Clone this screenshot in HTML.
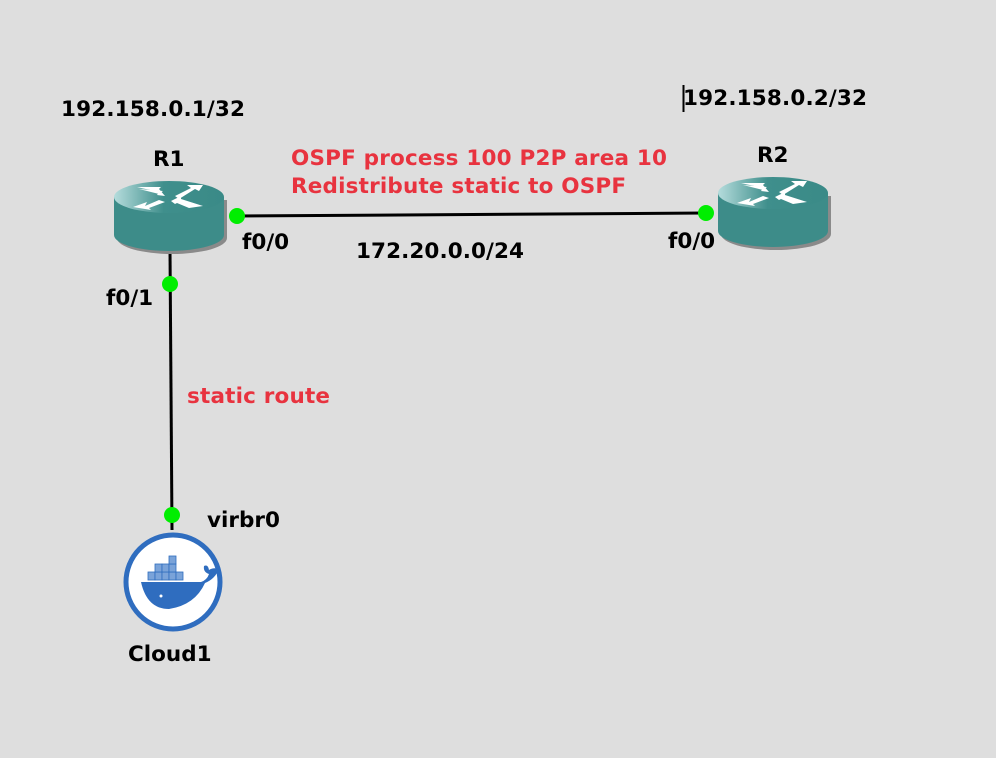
<!DOCTYPE html>
<html><head><style>
html,body{margin:0;padding:0;background:#dedede;}
svg{display:block}
text{font-family:"DejaVu Sans","Liberation Sans",sans-serif;font-weight:bold;font-size:21.5px;fill:#000}
.r{fill:#e8333f}
</style></head><body>
<svg width="996" height="758" viewBox="0 0 996 758" xmlns="http://www.w3.org/2000/svg">
<defs>
<linearGradient id="tg" x1="0" y1="0" x2="1" y2="0">
<stop offset="0" stop-color="#b5dcdc"/><stop offset="0.45" stop-color="#3f8f8c"/><stop offset="1" stop-color="#3a8a87"/>
</linearGradient>
<g id="router">
<path d="M-52 3 v38 a55 16 0 0 0 110 0 v-38 z" fill="#8a8a8a"/>
<path d="M-55 0 v38 a55 16 0 0 0 110 0 v-38 z" fill="#3d8c89"/>
<ellipse cx="0" cy="0" rx="55" ry="16" fill="url(#tg)"/>
<g fill="#fff">
<polygon points="-32,-10 -10,-5 -12,-2 -4,-1 -10,-8 -8,-10"/>
<polygon points="-30,-8 -10,-3 -6,-6"/>
<polygon points="6,-1 22,-9 18,-12 34,-12 30,-6 26,-8 10,2"/>
<polygon points="-36,10 -22,5 -24,9 -10,3 -4,5 -20,11 -18,13"/>
<polygon points="2,4 12,-1 12,2 34,9 20,11 8,6 6,7"/>
</g>
</g>
</defs>
<line x1="237" y1="216" x2="706" y2="213" stroke="#000" stroke-width="3"/>
<line x1="170" y1="250" x2="172" y2="530" stroke="#000" stroke-width="3"/>
<use href="#router" x="169" y="197"/>
<use href="#router" x="773" y="193"/>
<circle cx="237" cy="216" r="8" fill="#00ee00"/>
<circle cx="706" cy="213" r="8" fill="#00ee00"/>
<circle cx="170" cy="284" r="8" fill="#00ee00"/>
<circle cx="172" cy="515" r="8" fill="#00ee00"/>
<circle cx="173" cy="582" r="47" fill="#fff" stroke="#2f6dbf" stroke-width="5"/>
<g fill="#2f6dbf">
<path d="M141 582 h60 q6 -2 8 -8 q-6 -2 -5 -8 q4 -2 5 4 q4 -3 10 -1 q-4 10 -14 14 q-10 22 -36 26 q-22 0 -28 -27 z"/>
</g>
<g fill="#7aa3d9" stroke="#2f6dbf" stroke-width="0.8">
<rect x="148" y="572" width="7" height="8"/><rect x="155" y="572" width="7" height="8"/><rect x="162" y="572" width="7" height="8"/><rect x="169" y="572" width="7" height="8"/><rect x="176" y="572" width="7" height="8"/>
<rect x="155" y="564" width="7" height="8"/><rect x="162" y="564" width="7" height="8"/><rect x="169" y="564" width="7" height="8"/>
<rect x="169" y="556" width="7" height="8"/>
</g>
<circle cx="161" cy="596" r="1.5" fill="#fff"/>
<line x1="683.5" y1="85" x2="683.5" y2="112" stroke="#000" stroke-width="2"/>
<text x="61" y="116" textLength="184">192.158.0.1/32</text>
<text x="683" y="105" textLength="184">192.158.0.2/32</text>
<text x="153" y="166">R1</text>
<text x="757" y="162">R2</text>
<text class="r" x="291" y="165" textLength="376">OSPF process 100 P2P area 10</text>
<text class="r" x="291" y="193" textLength="335">Redistribute static to OSPF</text>
<text x="242" y="249">f0/0</text>
<text x="668" y="248">f0/0</text>
<text x="356" y="258" textLength="168">172.20.0.0/24</text>
<text x="106" y="305">f0/1</text>
<text class="r" x="187" y="403" textLength="143">static route</text>
<text x="207" y="527">virbr0</text>
<text x="128" y="661">Cloud1</text>
</svg>
</body></html>
